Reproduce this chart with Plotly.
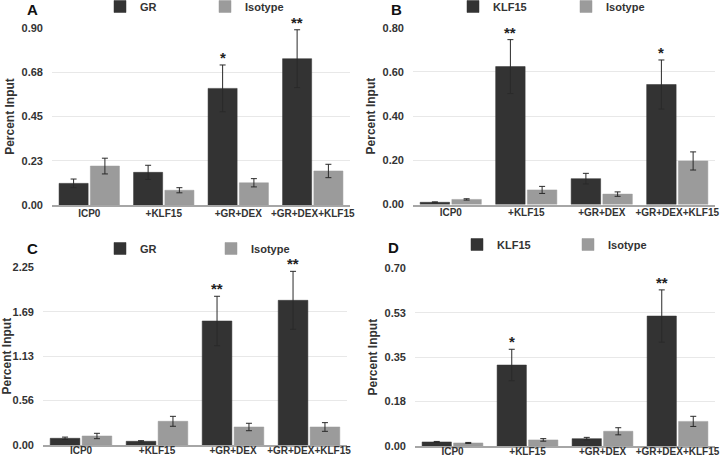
import plotly.graph_objects as go

categories = ["ICP0", "+KLF15", "+GR+DEX", "+GR+DEX+KLF15"]

# Panel A: GR ChIP vs Isotype
a_gr = [0.110, 0.166, 0.593, 0.744]
a_gr_err = [0.022, 0.036, 0.119, 0.147]
a_iso = [0.198, 0.075, 0.113, 0.173]
a_iso_err = [0.040, 0.013, 0.021, 0.034]
a_stars = ["", "", "*", "**"]
a_ticks = [0, 0.225, 0.45, 0.675, 0.9]
a_ticktext = ["0.00", "0.23", "0.45", "0.68", "0.90"]

# Panel B: KLF15 ChIP vs Isotype
b_klf = [0.010, 0.624, 0.117, 0.543]
b_klf_err = [0.002, 0.122, 0.024, 0.111]
b_iso = [0.023, 0.066, 0.047, 0.197]
b_iso_err = [0.003, 0.016, 0.010, 0.041]
b_stars = ["", "**", "", "*"]
b_ticks = [0, 0.2, 0.4, 0.6, 0.8]
b_ticktext = ["0.00", "0.20", "0.40", "0.60", "0.80"]

# Panel C: GR ChIP vs Isotype
c_gr = [0.085, 0.047, 1.570, 1.832]
c_gr_err = [0.015, 0.008, 0.313, 0.367]
c_iso = [0.114, 0.300, 0.228, 0.228]
c_iso_err = [0.034, 0.063, 0.047, 0.055]
c_stars = ["", "", "**", "**"]
c_ticks = [0, 0.5625, 1.125, 1.6875, 2.25]
c_ticktext = ["0.00", "0.56", "1.13", "1.69", "2.25"]

# Panel D: KLF15 ChIP vs Isotype
d_klf = [0.016, 0.319, 0.029, 0.512]
d_klf_err = [0.002, 0.062, 0.005, 0.103]
d_iso = [0.012, 0.024, 0.058, 0.097]
d_iso_err = [0.002, 0.005, 0.014, 0.020]
d_stars = ["", "*", "", "**"]
d_ticks = [0, 0.175, 0.35, 0.525, 0.7]
d_ticktext = ["0.00", "0.18", "0.35", "0.53", "0.70"]

DARK = "#333333"
LIGHT = "#9b9b9b"
FONT = "Liberation Sans"
BARGAP = 0.16

W, H = 720, 460

def px_dom(x0, x1):
    return [x0 / W, x1 / W]

def py_dom(ytop, ybot):
    return [1 - ybot / H, 1 - ytop / H]

panels = [
    dict(name="A", ab="GR", v1=a_gr, e1=a_gr_err, v2=a_iso, e2=a_iso_err, stars=a_stars,
         ticks=a_ticks, tt=a_ticktext, xd=px_dom(52, 350), yd=py_dom(28, 205),
         letter=(25, 9), leg=(100, -8), ew=60, xstand=-2),
    dict(name="B", ab="KLF15", v1=b_klf, e1=b_klf_err, v2=b_iso, e2=b_iso_err, stars=b_stars,
         ticks=b_ticks, tt=b_ticktext, xd=px_dom(413, 715), yd=py_dom(27.7, 204.5),
         letter=(389, 9), leg=(453, -8), ew=68, xstand=-2),
    dict(name="C", ab="GR", v1=c_gr, e1=c_gr_err, v2=c_iso, e2=c_iso_err, stars=c_stars,
         ticks=c_ticks, tt=c_ticktext, xd=px_dom(43, 347), yd=py_dom(267.3, 445),
         letter=(25, 248), leg=(100, 234), ew=66, xstand=-5),
    dict(name="D", ab="KLF15", v1=d_klf, e1=d_klf_err, v2=d_iso, e2=d_iso_err, stars=d_stars,
         ticks=d_ticks, tt=d_ticktext, xd=px_dom(415, 715), yd=py_dom(268.3, 446),
         letter=(386, 247.5), leg=(457, 230), ew=66, xstand=-5),
]

fig = go.Figure()
layout = dict(
    width=W, height=H, margin=dict(l=0, r=0, t=0, b=0, autoexpand=False),
    paper_bgcolor="white", plot_bgcolor="white",
    barmode="group", bargap=BARGAP, bargroupgap=0.07,
    font=dict(family=FONT, size=11, color="#333333", weight="bold"),
    annotations=[],
)

for i, p in enumerate(panels):
    n = "" if i == 0 else str(i + 1)
    xa, ya = "x" + n, "y" + n
    legname = "legend" + n
    for vals, errs, color, label in [(p["v1"], p["e1"], DARK, p["ab"]),
                                     (p["v2"], p["e2"], LIGHT, "Isotype")]:
        fig.add_trace(go.Bar(
            x=categories, y=vals, name=label, xaxis=xa, yaxis=ya, legend=legname,
            marker=dict(color=color, line=dict(color=color, width=0.5)),
            error_y=dict(type="data", array=errs, visible=True,
                         color="#2a2a2a", thickness=1, width=3),
        ))
    layout["xaxis" + n] = dict(
        domain=p["xd"], anchor=ya, type="category", automargin=False,
        showline=True, linecolor="#a6a6a6", linewidth=1.5, tickangle=0,
        showgrid=False, ticks="", ticklabelstandoff=p["xstand"],
        tickfont=dict(size=10, color="#333333"),
    )
    layout["yaxis" + n] = dict(
        domain=p["yd"], anchor=xa, range=[0, p["ticks"][-1]], automargin=False,
        tickvals=p["ticks"], ticktext=p["tt"],
        showgrid=True, gridcolor="#e8e8e8", gridwidth=1,
        zeroline=False, showline=False, ticks="", ticklabelstandoff=8,
        tickfont=dict(size=11, color="#333333"),
        title=dict(text="Percent Input", font=dict(size=12, color="#333333"), standoff=4),
    )
    lx, ly = p["leg"]
    layout[legname] = dict(
        x=lx / W, y=1 - ly / H, xanchor="left", yanchor="top",
        orientation="h", bgcolor="rgba(0,0,0,0)", borderwidth=0,
        entrywidth=p["ew"], entrywidthmode="pixels",
        font=dict(size=11, color="#333333"), traceorder="normal",
    )
    lxp, lyp = p["letter"]
    layout["annotations"].append(dict(
        text=p["name"], x=lxp / W, y=1 - lyp / H, xref="paper", yref="paper",
        xanchor="left", yanchor="middle", showarrow=False,
        font=dict(size=15, color="#111111", weight="bold"),
    ))
    for k, s in enumerate(p["stars"]):
        if s:
            layout["annotations"].append(dict(
                text=s, x=k - (1 - BARGAP) / 4, y=p["v1"][k] + p["e1"][k],
                xref=xa, yref=ya, xanchor="center", yanchor="bottom",
                showarrow=False, yshift=-3,
                font=dict(size=15, color="#222222", weight="bold"),
            ))

fig.update_layout(**layout)
fig.write_html(
    "out.html",
    config={"displayModeBar": False},
    post_script="document.body.style.margin='0';document.body.style.overflow='hidden';",
)
